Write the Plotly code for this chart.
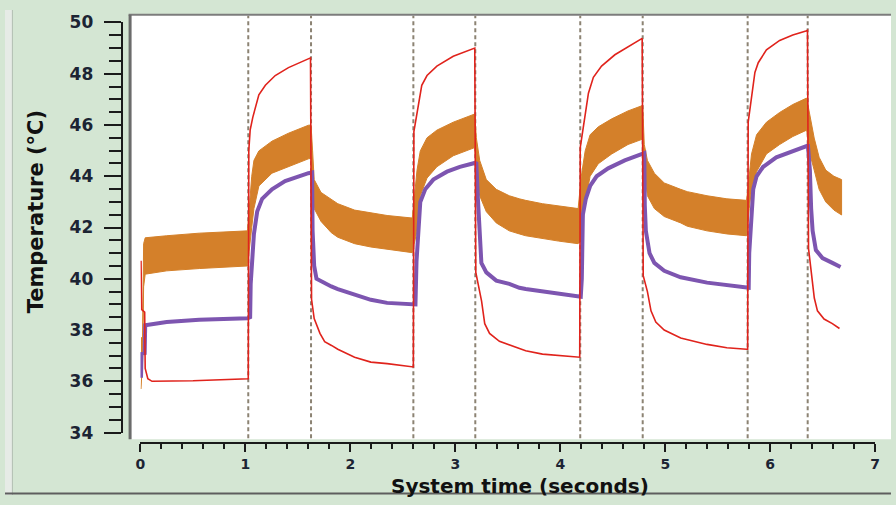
import plotly.graph_objects as go

W, H = 896, 505

# ---------------- data ----------------
event_times = [1.027, 1.625, 2.60, 3.19, 4.19, 4.785, 5.785, 6.357]

red_t = [0.005, 0.012, 0.04, 0.045, 0.07, 0.11, 0.5, 1.02,
         1.027, 1.032, 1.045, 1.07, 1.096, 1.128, 1.19, 1.284, 1.41, 1.60, 1.62,
         1.63, 1.655, 1.71, 1.755, 1.82, 1.88, 2.04, 2.195, 2.35, 2.59,
         2.60, 2.605, 2.65, 2.68, 2.73, 2.824, 2.98, 3.17, 3.185,
         3.195, 3.25, 3.28, 3.326, 3.42, 3.514, 3.61, 3.67, 3.83, 3.985, 4.17,
         4.185, 4.19, 4.237, 4.268, 4.315, 4.393, 4.52, 4.645, 4.77, 4.78,
         4.79, 4.83, 4.864, 4.91, 4.99, 5.147, 5.398, 5.587, 5.775,
         5.785, 5.79, 5.822, 5.854, 5.886, 5.964, 6.09, 6.215, 6.34, 6.355,
         6.365, 6.397, 6.42, 6.45, 6.513, 6.592, 6.66]
red_v = [40.7, 38.8, 38.7, 36.5, 36.1, 36.0, 36.02, 36.1,
         36.1, 45.0, 45.8, 46.3, 46.74, 47.18, 47.55, 47.93, 48.24, 48.59, 48.62,
         39.2, 38.45, 37.87, 37.55, 37.4, 37.25, 36.94, 36.75, 36.69, 36.56,
         36.56, 45.74, 46.86, 47.55, 47.93, 48.3, 48.68, 48.99, 49.0,
         40.25, 39.13, 38.25, 37.87, 37.56, 37.42, 37.28, 37.19, 37.06, 37.0, 36.94,
         36.94, 45.12, 46.49, 47.24, 47.86, 48.3, 48.74, 49.05, 49.36, 49.38,
         40.12, 39.5, 38.75, 38.31, 38.0, 37.69, 37.44, 37.31, 37.25,
         37.25, 46.11, 47.18, 48.05, 48.43, 48.93, 49.3, 49.51, 49.67, 49.7,
         41.18, 40.0, 39.25, 38.75, 38.43, 38.25, 38.06]

purple_t = [0.005, 0.01, 0.04, 0.045, 0.25, 0.56, 1.02,
            1.045, 1.05, 1.065, 1.081, 1.112, 1.159, 1.253, 1.378, 1.60, 1.615,
            1.635, 1.64, 1.655, 1.677, 1.74, 1.818, 1.88, 2.04, 2.195, 2.35, 2.59,
            2.62, 2.63, 2.65, 2.666, 2.713, 2.79, 2.92, 3.043, 3.185,
            3.20, 3.215, 3.232, 3.248, 3.295, 3.39, 3.514, 3.61, 3.67, 3.83, 3.985, 4.17,
            4.195, 4.205, 4.215, 4.243, 4.284, 4.346, 4.456, 4.614, 4.77, 4.79,
            4.80, 4.805, 4.815, 4.85, 4.896, 4.99, 5.147, 5.398, 5.587, 5.775,
            5.795, 5.80, 5.816, 5.838, 5.87, 5.933, 6.058, 6.215, 6.347,
            6.36, 6.378, 6.39, 6.404, 6.435, 6.498, 6.592, 6.67]
purple_v = [36.14, 37.07, 37.1, 38.19, 38.31, 38.4, 38.46,
            38.5, 39.8, 40.8, 41.75, 42.62, 43.12, 43.49, 43.81, 44.12, 44.15,
            44.15, 41.87, 40.5, 40.0, 39.85, 39.7, 39.6, 39.37, 39.18, 39.06, 39.0,
            39.0, 40.68, 41.75, 43.0, 43.49, 43.87, 44.18, 44.37, 44.52,
            44.5, 43.12, 41.87, 40.62, 40.25, 39.93, 39.8, 39.65, 39.6, 39.5, 39.4, 39.31,
            39.3, 40.0, 42.5, 43.12, 43.62, 44.0, 44.31, 44.62, 44.87, 44.9,
            44.9, 42.87, 41.87, 41.0, 40.62, 40.31, 40.06, 39.85, 39.75, 39.65,
            39.65, 41.0, 42.37, 43.49, 44.0, 44.37, 44.74, 45.0, 45.18,
            45.18, 44.24, 42.74, 41.87, 41.12, 40.81, 40.62, 40.46]

orange_t = [0.005, 0.02, 0.03, 0.045, 0.25, 0.56, 1.02,
            1.04, 1.06, 1.081, 1.128, 1.253, 1.41, 1.60, 1.625,
            1.64, 1.655, 1.72, 1.818, 1.88, 2.04, 2.195, 2.35, 2.59,
            2.635, 2.666, 2.73, 2.824, 2.98, 3.185,
            3.20, 3.232, 3.295, 3.39, 3.514, 3.61, 3.67, 3.83, 3.985, 4.17,
            4.20, 4.237, 4.284, 4.362, 4.49, 4.645, 4.77, 4.785,
            4.80, 4.83, 4.896, 4.99, 5.147, 5.21, 5.398, 5.587, 5.775,
            5.80, 5.822, 5.87, 5.964, 6.09, 6.215, 6.347,
            6.378, 6.419, 6.466, 6.529, 6.607, 6.68]
orange_hi = [37.7, 37.7, 41.37, 41.6, 41.68, 41.78, 41.87,
             43.0, 44.0, 44.62, 44.99, 45.37, 45.68, 45.99, 46.0,
             44.99, 43.87, 43.37, 43.1, 42.93, 42.68, 42.56, 42.47, 42.37,
             44.24, 44.99, 45.5, 45.8, 46.11, 46.43,
             45.5, 44.62, 43.87, 43.49, 43.24, 43.12, 43.06, 42.93, 42.84, 42.74,
             44.0, 44.99, 45.62, 45.93, 46.24, 46.55, 46.74, 46.78,
             45.24, 44.62, 44.12, 43.74, 43.49, 43.4, 43.24, 43.12, 43.06,
             44.0, 44.87, 45.62, 46.11, 46.49, 46.8, 47.05,
             46.37, 45.49, 44.74, 44.24, 44.0, 43.87]
orange_lo = [35.7, 36.8, 39.69, 40.18, 40.31, 40.4, 40.5,
             41.2, 42.0, 42.74, 43.62, 44.12, 44.37, 44.68, 44.7,
             43.9, 42.74, 42.24, 41.8, 41.62, 41.37, 41.24, 41.15, 41.02,
             41.87, 43.24, 43.93, 44.37, 44.8, 45.12,
             44.2, 43.24, 42.62, 42.18, 41.87, 41.75, 41.68, 41.56, 41.47, 41.37,
             41.5, 43.0, 44.0, 44.49, 44.87, 45.24, 45.43, 45.45,
             44.2, 43.24, 42.74, 42.43, 42.18, 42.05, 41.87, 41.75, 41.68,
             42.74, 43.49, 44.18, 44.87, 45.24, 45.55, 45.8,
             44.87, 44.24, 43.49, 43.0, 42.68, 42.49]

y_ticks = [34, 36, 38, 40, 42, 44, 46, 48, 50]
x_ticks = [0, 1, 2, 3, 4, 5, 6, 7]

# ---------------- styling ----------------
GREEN = "#d4e6d3"
ORANGE = "#d4802a"
PURPLE = "#7d55b0"
RED = "#e0231c"
DASH = "#8c8373"
TICKC = "#1c2433"


def fx(px):
    return px / W


def fy(py):
    return 1 - py / H


fig = go.Figure()

fig.add_trace(go.Scatter(
    x=orange_t + orange_t[::-1],
    y=orange_hi + orange_lo[::-1],
    fill="toself", fillcolor=ORANGE, mode="lines",
    line=dict(color=ORANGE, width=1), hoverinfo="skip", showlegend=False))
fig.add_trace(go.Scatter(x=purple_t, y=purple_v, mode="lines",
                         line=dict(color=PURPLE, width=4), showlegend=False))
fig.add_trace(go.Scatter(x=red_t, y=red_v, mode="lines",
                         line=dict(color=RED, width=1.6), showlegend=False))

shapes = []
shapes.append(dict(type="rect", xref="paper", yref="paper",
                   x0=fx(127), x1=1, y0=fy(447), y1=fy(5),
                   fillcolor="white", line=dict(width=0), layer="below"))
shapes.append(dict(type="rect", xref="paper", yref="paper",
                   x0=0, x1=fx(7), y0=0, y1=1,
                   fillcolor="#e6ebe6", line=dict(width=0), layer="below"))
shapes.append(dict(type="line", xref="paper", yref="paper",
                   x0=fx(7.5), x1=fx(7.5), y0=0, y1=1,
                   line=dict(color="#b4c0b4", width=1), layer="below"))
shapes.append(dict(type="line", xref="paper", yref="paper",
                   x0=fx(125), x1=1, y0=fy(5), y1=fy(5),
                   line=dict(color="#7c7c7c", width=2)))
shapes.append(dict(type="line", xref="paper", yref="paper",
                   x0=fx(126.5), x1=fx(126.5), y0=fy(447), y1=fy(5),
                   line=dict(color="#6b6b6b", width=3)))
shapes.append(dict(type="line", xref="paper", yref="paper",
                   x0=0, x1=1, y0=fy(503.5), y1=fy(503.5),
                   line=dict(color="#5e5e5e", width=2), layer="below"))
for t in event_times:
    shapes.append(dict(type="line", xref="x", yref="paper",
                       x0=t, x1=t, y0=fy(446), y1=fy(6),
                       line=dict(color=DASH, width=2, dash="4px,3px"),
                       layer="below"))

fig.update_layout(
    width=W, height=H, autosize=False,
    margin=dict(l=0, r=0, t=0, b=0, pad=0),
    paper_bgcolor=GREEN, plot_bgcolor="white",
    shapes=shapes,
    showlegend=False,
    xaxis=dict(
        domain=[fx(137), fx(880)], range=[0, 7],
        anchor="free", position=fy(451),
        showgrid=False, zeroline=False,
        showline=True, linecolor="#1a1a1a", linewidth=2,
        tickmode="array", tickvals=x_ticks, ticktext=[str(v) for v in x_ticks],
        ticks="outside", ticklen=8, tickwidth=2, tickcolor="#1a1a1a",
        minor=dict(dtick=0.2, ticks="outside", ticklen=5, tickwidth=2,
                   tickcolor="#1a1a1a", showgrid=False),
        tickfont=dict(family="DejaVu Sans", size=14, color=TICKC, weight="bold"),
        ticklabelstandoff=0,
    ),
    yaxis=dict(
        domain=[fy(440), fy(13)], range=[34, 50],
        anchor="free", position=fx(118),
        showgrid=False, zeroline=False,
        showline=True, linecolor="#1a1a1a", linewidth=2,
        tickmode="array", tickvals=y_ticks, ticktext=[str(v) for v in y_ticks],
        ticks="outside", ticklen=17, tickwidth=2, tickcolor="#1a1a1a",
        minor=dict(dtick=0.5, ticks="outside", ticklen=12, tickwidth=2,
                   tickcolor="#1a1a1a", showgrid=False),
        tickfont=dict(family="DejaVu Sans", size=17, color=TICKC, weight="bold"),
        ticklabelstandoff=7,
    ),
    annotations=[
        dict(text="Temperature (°C)", xref="paper", yref="paper",
             x=fx(31), y=fy(210), textangle=-90, showarrow=False,
             xanchor="center", yanchor="middle",
             font=dict(family="DejaVu Sans", size=21, color="#111111", weight="bold")),
        dict(text="System time (seconds)", xref="paper", yref="paper",
             x=fx(521), y=fy(495.5), showarrow=False,
             xanchor="center", yanchor="middle", borderpad=0,
             font=dict(family="DejaVu Sans", size=20, color="#111111", weight="bold")),
    ],
)

fig.write_html("out.html")
